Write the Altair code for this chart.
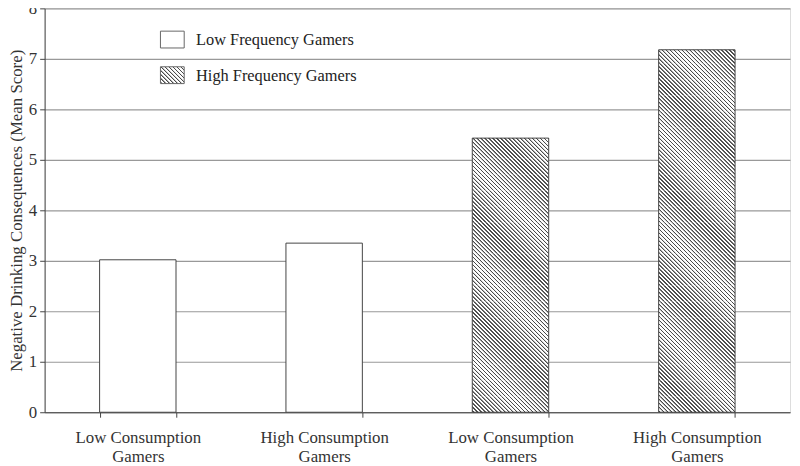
import altair as alt
import pandas as pd

# ---- data ----
consumption = ["Low Consumption Gamers", "High Consumption Gamers",
               "Low Consumption Gamers", "High Consumption Gamers"]
frequency = ["Low Frequency Gamers", "Low Frequency Gamers",
             "High Frequency Gamers", "High Frequency Gamers"]
mean_score = [3.02, 3.35, 5.43, 7.18]
legend_labels = ["Low Frequency Gamers", "High Frequency Gamers"]
y_ticks = [0, 1, 2, 3, 4, 5, 6, 7, 8]

keys = [f"{c} / {f}" for c, f in zip(consumption, frequency)]
df = pd.DataFrame({"key": keys, "consumption": consumption,
                   "frequency": frequency, "score": mean_score})

# ---- layout ----
W, H = 753, 408
YMAX = 8
PAD_IN, PAD_OUT = 0.59, 0.295
BAND = W * (1 - PAD_IN) / (len(keys) - PAD_IN + 2 * PAD_OUT)
FONT = "Liberation Serif"
INK = "#444444"
HATCH = "#4a4a4a"
PERIOD = 4.0
SEG_PX = 16.0  # hatched bars are filled in short slices so the stripes stay crisp


def hatch(w, h, period=PERIOD):
    """Diagonal (top-left to bottom-right) stripe fill as a linear gradient,
    with a soft trapezoid profile so pixel sampling does not alias."""
    s = (w + h) / (w * w + h * h)
    total = w + h
    profile = [(0.0, "#ffffff"), (0.5, "#ffffff"), (1.0, HATCH), (2.0, HATCH),
               (2.5, "#ffffff"), (period, "#ffffff")]
    stops = []
    c = 0.0
    while c < total - 1e-9:
        for d, col in profile:
            stops.append({"offset": min((c + d) / total, 1.0), "color": col})
        c += period
    return {"gradient": "linear", "x1": 0, "y1": 1, "x2": s * w, "y2": 1 - s * h,
            "stops": stops}


y_scale = alt.Scale(domain=[0, YMAX], nice=False)
x_enc = alt.X("key:N", sort=keys,
              scale=alt.Scale(paddingInner=PAD_IN, paddingOuter=PAD_OUT),
              axis=alt.Axis(title=None, labelAngle=0, tickBand="extent",
                            labelExpr="datum.label ? [replace(split(datum.label, ' / ')[0], ' Gamers', ''), 'Gamers'] : ''",
                            labelFont=FONT, labelFontSize=17, labelColor="#333333",
                            labelLineHeight=19, labelPadding=13, tickSize=5,
                            tickColor=INK, domainColor=INK, grid=False))
y_axis = alt.Axis(title="Negative Drinking Consequences (Mean Score)",
                  values=y_ticks, format="d",
                  labelFont=FONT, labelFontSize=17, labelColor="#333333",
                  labelPadding=3, tickSize=5, tickColor=INK, domainColor=INK,
                  titleFont=FONT, titleFontSize=17, titleFontWeight="normal",
                  titleColor="#333333", titlePadding=3,
                  grid=True, gridColor="#999999", gridWidth=1.2)

base = alt.Chart(df)
layers = []

# white bars (low frequency)
layers.append(base.transform_filter(alt.datum.frequency == frequency[0]).mark_bar(
    fill="#ffffff", stroke=INK, strokeWidth=1).encode(
    x=x_enc, y=alt.Y("score:Q", scale=y_scale, axis=y_axis)))

# hatched bars (high frequency), built as stacked slices of each bar's value
seg_rows = []
for k, v, f in zip(keys, mean_score, frequency):
    if f != frequency[2]:
        continue
    hpx = v / YMAX * H
    b = 0.0
    while hpx - b > 0.5:
        t = min(b + SEG_PX, hpx)
        seg_rows.append({"key": k, "y0": b / H * YMAX, "y1": t / H * YMAX,
                         "full": (t - b) >= SEG_PX - 1e-6, "hpx": t - b})
        b = t
seg_df = pd.DataFrame(seg_rows)

seg_y = alt.Y("y0:Q", scale=y_scale, axis=y_axis)
layers.append(alt.Chart(seg_df).transform_filter(alt.datum.full).mark_bar(
    fill=hatch(BAND, SEG_PX), strokeWidth=0).encode(x=x_enc, y=seg_y, y2="y1:Q"))
for r in seg_rows:
    if r["full"]:
        continue
    layers.append(alt.Chart(seg_df).transform_filter(
        (alt.datum.key == r["key"]) & (~alt.datum.full)).mark_bar(
        fill=hatch(BAND, r["hpx"]), strokeWidth=0).encode(x=x_enc, y=seg_y, y2="y1:Q"))

# outlines of the hatched bars
layers.append(base.transform_filter(alt.datum.frequency == frequency[2]).mark_bar(
    fill="transparent", stroke=INK, strokeWidth=1).encode(
    x=x_enc, y=alt.Y("score:Q", scale=y_scale, axis=y_axis)))

# ---- manual legend (inside plot, top-left) ----
one = alt.Data(values=[{}])
SW_X, SW_X2 = 117, 141
rows = [(23, 40, "#ffffff", 32), (59, 76, hatch(24, 17), 68)]
for (ya, yb, fill, yt), lab in zip(rows, legend_labels):
    layers.append(alt.Chart(one).mark_rect(fill=fill, stroke="#666666", strokeWidth=1).encode(
        x=alt.value(SW_X), x2=alt.value(SW_X2), y=alt.value(ya), y2=alt.value(yb)))
    layers.append(alt.Chart(one).mark_text(
        align="left", baseline="middle", font=FONT, fontSize=16.5, color="#222222"
    ).encode(x=alt.value(153), y=alt.value(yt), text=alt.datum(lab)))

chart = alt.layer(*layers).properties(
    width=W, height=H,
    autosize=alt.AutoSizeParams(type="none"),
    padding={"left": 37, "top": -2, "right": 2, "bottom": 60},
).configure_view(stroke="#888888", strokeWidth=1.2).configure(background="white")

chart.save("out.html", embed_options={"renderer": "svg", "actions": False})
